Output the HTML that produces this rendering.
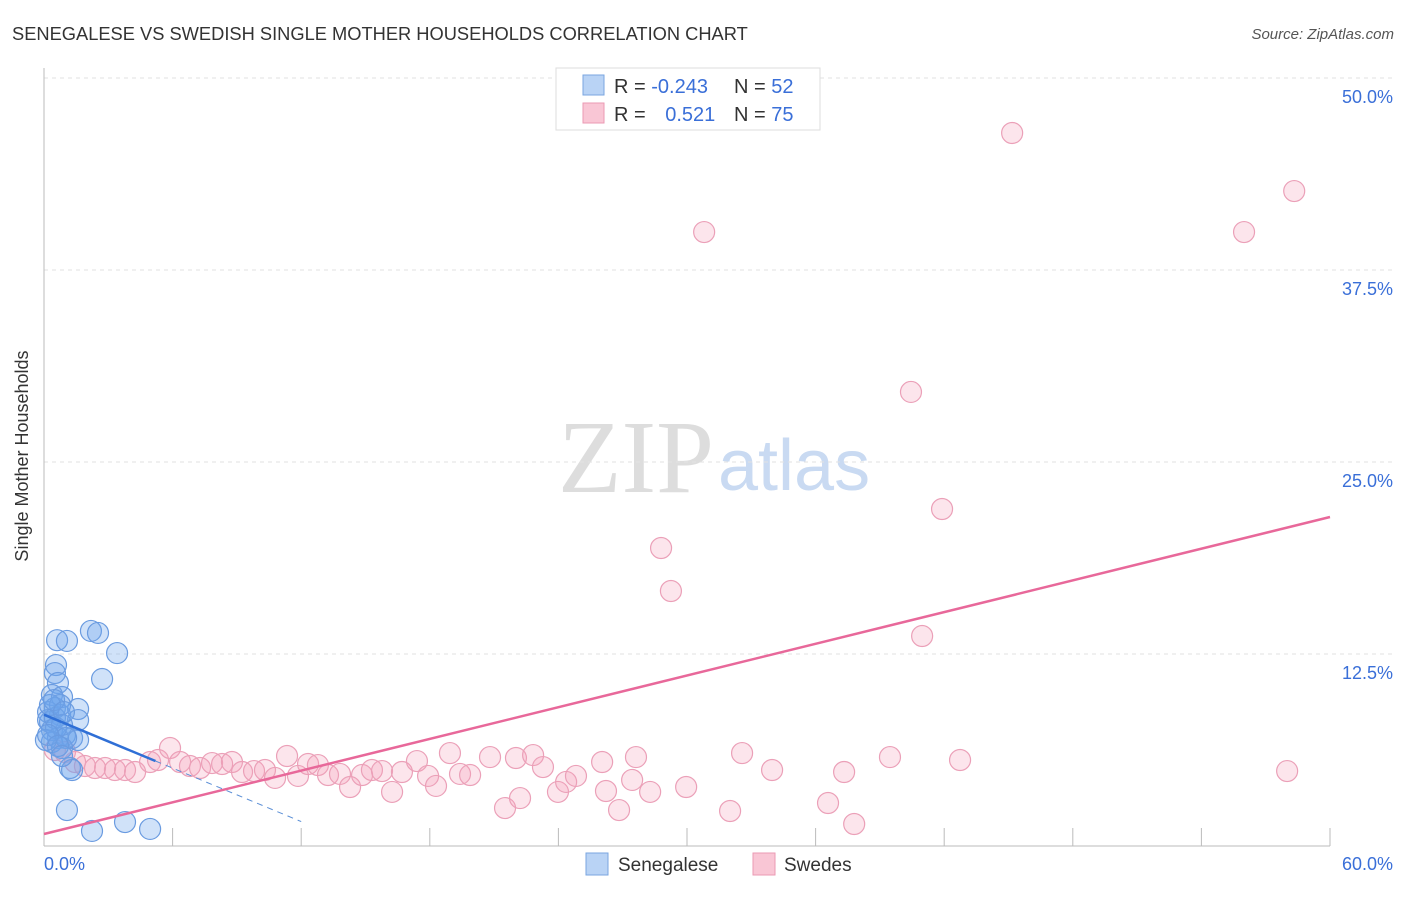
<!DOCTYPE html>
<html><head><meta charset="utf-8"><style>
body{margin:0;background:#fff;font-family:"Liberation Sans",sans-serif;}
svg text{font-family:"Liberation Sans",sans-serif;}
</style></head><body>
<svg id="chart" width="1406" height="892" xmlns="http://www.w3.org/2000/svg">
<text x="12" y="40" font-size="18.3" fill="#333">SENEGALESE VS SWEDISH SINGLE MOTHER HOUSEHOLDS CORRELATION CHART</text>
<text x="1394" y="39" font-size="15" fill="#555" font-style="italic" text-anchor="end">Source: ZipAtlas.com</text>
<text x="714" y="492" font-size="104" fill="#ddd" text-anchor="end" style="font-family:'Liberation Serif',serif">ZIP</text>
<text x="718" y="490" font-size="72" fill="#c9daf2">atlas</text>
<g id="grid"></g>
<g id="marks"></g>
<text x="28" y="456" font-size="18" fill="#333" text-anchor="middle" transform="rotate(-90 28 456)">Single Mother Households</text>
<g>
<rect x="556" y="68" width="264" height="62" fill="#fff" stroke="#ddd"/>
<rect x="583" y="75" width="21" height="20" fill="#b9d3f5" stroke="#7aa6e0"/>
<rect x="583" y="103" width="21" height="20" fill="#f9c6d5" stroke="#eb9ab3"/>
<text x="614" y="93" font-size="20" fill="#333">R = <tspan fill="#3a6fd8">-0.243</tspan></text>
<text x="734" y="93" font-size="20" fill="#333">N = <tspan fill="#3a6fd8">52</tspan></text>
<text x="614" y="121" font-size="20" fill="#333">R = <tspan fill="#3a6fd8" dx="14">0.521</tspan></text>
<text x="734" y="121" font-size="20" fill="#333">N = <tspan fill="#3a6fd8">75</tspan></text>
</g>
<g>
<rect x="586" y="853" width="22" height="22" fill="#b9d3f5" stroke="#7aa6e0"/>
<text x="618" y="871" font-size="19" fill="#333">Senegalese</text>
<rect x="753" y="853" width="22" height="22" fill="#f9c6d5" stroke="#eb9ab3"/>
<text x="784" y="871" font-size="19" fill="#333">Swedes</text>
</g>
</svg>
<script>
const yTicks=[12.5,25,37.5,50];
const yTickLabels=["12.5%","25.0%","37.5%","50.0%"];
const xTicks=[6,12,18,24,30,36,42,48,54,60];
const blueX=[0.61,1.07,2.19,2.52,3.41,0.56,0.51,0.65,2.71,0.37,0.84,0.51,0.19,0.75,1.59,1.59,0.28,0.37,0.98,1.31,1.59,0.65,0.37,0.84,1.21,1.31,1.07,2.24,3.78,4.95,0.19,0.51,0.75,0.09,0.28,0.84,0.56,1.03,0.19,0.47,0.93,0.65,0.84];
const blueY=[13.4,13.35,14.0,13.87,12.56,11.78,11.26,10.61,10.87,9.83,9.70,8.98,8.72,8.53,8.92,8.20,8.07,7.55,7.23,7.03,6.90,7.03,6.77,6.38,5.08,4.95,2.34,0.98,1.56,1.11,8.2,8.33,9.18,6.9,9.18,7.88,7.68,7.03,7.23,9.5,8.72,6.51,5.86];
const pinkX=[45.17,58.33,30.80,55.99,40.45,41.90,28.79,29.25,40.97,0.51,0.98,1.45,1.91,2.38,2.85,3.31,3.78,4.25,4.95,5.32,5.88,6.35,6.81,7.28,7.84,8.31,8.77,9.24,9.80,10.31,10.78,11.34,11.85,12.32,12.78,13.25,13.81,14.28,14.84,15.30,15.77,16.24,16.70,17.40,17.92,18.29,18.94,19.41,19.88,20.81,21.51,22.02,22.21,22.82,23.28,23.98,24.36,24.82,26.04,26.22,26.83,27.44,27.62,28.28,29.96,32.01,32.57,33.97,36.58,37.33,37.80,39.47,42.74,58.00];
const pinkY=[46.42,42.64,39.97,39.97,29.56,21.94,19.40,16.60,13.67,6.25,6.12,5.47,5.21,5.08,5.08,4.95,4.95,4.82,5.47,5.60,6.38,5.47,5.21,5.08,5.40,5.34,5.47,4.82,4.88,4.95,4.43,5.86,4.56,5.34,5.27,4.62,4.69,3.84,4.62,4.95,4.88,3.52,4.82,5.53,4.56,3.91,6.05,4.69,4.62,5.79,2.47,5.73,3.12,5.92,5.14,3.52,4.17,4.56,5.47,3.58,2.34,4.30,5.79,3.52,3.84,2.28,6.05,4.95,2.80,4.82,1.43,5.79,5.60,4.88];
const blueTrend=[8.55,-0.58];
const pinkTrend=[0.78,0.344];
const X=v=>44+v/60*1286;
const Y=v=>846-v/12.5*192;
const NS="http://www.w3.org/2000/svg";
function mk(tag,attrs,parent){const e=document.createElementNS(NS,tag);for(const k in attrs)e.setAttribute(k,attrs[k]);parent.appendChild(e);return e;}
const grid=document.getElementById('grid'),marks=document.getElementById('marks');
yTicks.forEach((t,i)=>{
 const l=mk('line',{x1:44,x2:1394,y1:Y(t),y2:Y(t),stroke:'#e2e2e2','stroke-dasharray':'4,4'},grid);
 
 
 const tx=mk('text',{x:1393,y:Y(t)+25,'font-size':18,fill:'#3a6fd8','text-anchor':'end'},grid);
 tx.textContent=yTickLabels[i];
 
 
});
const ax=mk('line',{x1:44,x2:1330,y1:846,y2:846,stroke:'#bbb'},grid);


const ay=mk('line',{x1:44,x2:44,y1:68,y2:846,stroke:'#bbb'},grid);


xTicks.forEach(t=>{
 const l=mk('line',{x1:X(t),x2:X(t),y1:828,y2:846,stroke:'#bbb'},grid);
 
 
});
const x0=mk('text',{x:44,y:870,'font-size':18,fill:'#3a6fd8'},grid);x0.textContent='0.0%';


const x1=mk('text',{x:1393,y:870,'font-size':18,fill:'#3a6fd8','text-anchor':'end'},grid);x1.textContent='60.0%';


pinkX.forEach((v,i)=>{
 const c=mk('circle',{cx:X(v),cy:Y(pinkY[i]),r:10.5,fill:'rgba(244,160,188,0.28)',stroke:'#eba0b8','stroke-width':1.2},marks);
 
 
});
blueX.forEach((v,i)=>{
 const c=mk('circle',{cx:X(v),cy:Y(blueY[i]),r:10.5,fill:'rgba(110,165,235,0.32)',stroke:'#6a9be0','stroke-width':1.2},marks);
 
 
});
const pt=mk('line',{x1:X(0),y1:Y(pinkTrend[0]),x2:X(60),y2:Y(pinkTrend[0]+pinkTrend[1]*60),stroke:'#e8689a','stroke-width':2.5},marks);


const bt=mk('line',{x1:X(0),y1:Y(blueTrend[0]),x2:X(5.2),y2:Y(blueTrend[0]+blueTrend[1]*5.2),stroke:'#2f6fd6','stroke-width':2.5},marks);


const bd=mk('line',{x1:X(5.2),y1:Y(blueTrend[0]+blueTrend[1]*5.2),x2:X(12),y2:Y(blueTrend[0]+blueTrend[1]*12),stroke:'#5b8fd6','stroke-width':1,'stroke-dasharray':'6,5'},marks);


</script>
</body></html>
